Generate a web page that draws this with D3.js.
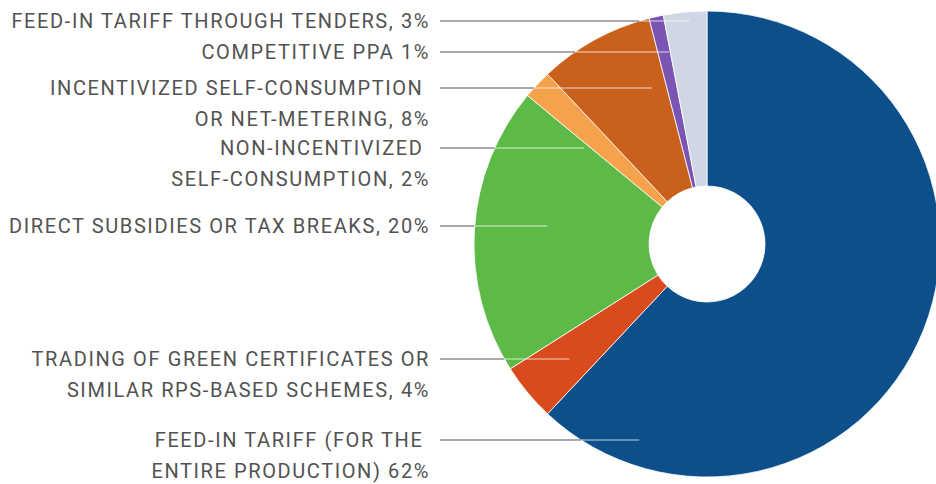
<!DOCTYPE html>
<html>
<head>
<meta charset="utf-8">
<script src="https://cdn.jsdelivr.net/npm/d3@7/dist/d3.min.js"></script>
<style>
  html, body { margin: 0; padding: 0; background: #fff; }
  svg { display: block; }
  .lbl { font-family: Roboto, "Liberation Sans", sans-serif; font-size: 20px; letter-spacing: 1.6px; fill: #525252; }
</style>
</head>
<body>
<svg id="chart" width="936" height="484"></svg>
<script>
// Support schemes, clockwise from 12 o'clock
const schemes = [
  "Feed-in tariff (entire production)",
  "Trading of green certificates",
  "Direct subsidies or tax breaks",
  "Non-incentivized self-consumption",
  "Incentivized self-consumption or net-metering",
  "Competitive PPA",
  "Feed-in tariff through tenders"
];
const shares = [62, 4, 20, 2, 8, 1, 3];
const sliceColors = ["#0c4f8b", "#d94a1c", "#5dba46", "#f4a24b", "#c9611d", "#7a55b3", "#cfd7e4"];
const labelText = [
  ["FEED-IN TARIFF (FOR THE\u00a0", "ENTIRE PRODUCTION) 62%"],
  ["TRADING OF GREEN CERTIFICATES OR", "SIMILAR RPS-BASED SCHEMES, 4%"],
  ["DIRECT SUBSIDIES OR TAX BREAKS, 20%"],
  ["NON-INCENTIVIZED\u00a0", "SELF-CONSUMPTION, 2%"],
  ["INCENTIVIZED SELF-CONSUMPTION\u00a0", "OR NET-METERING, 8%"],
  ["COMPETITIVE PPA 1%"],
  ["FEED-IN TARIFF THROUGH TENDERS, 3%"]
];

// Label layout: vertical centre of the first text line, and how far into the
// pie (as a fraction of the radius) the leader reaches.
const labelY = [440, 359, 226, 148, 88, 52, 21];
const leaderReach = [0.89, 0.77, 0.69, 0.67, 0.71, 0.84, 0.96];

const W = 936, H = 484;
const cx = 707, cy = 244, R = 233, r0 = 58;
const textRight = 430, leaderStart = 440, lineGap = 31;

const svg = d3.select("#chart");

const pie = d3.pie().sort(null).value(d => d);
const arcs = pie(shares);
const arc = d3.arc().innerRadius(r0).outerRadius(R);

const g = svg.append("g").attr("transform", `translate(${cx},${cy})`);
g.selectAll("path")
  .data(arcs)
  .join("path")
  .attr("d", arc)
  .attr("fill", (d, i) => sliceColors[i])
  .attr("stroke", "#ffffff")
  .attr("stroke-width", 0.8);

// Leader lines: grey outside the pie, translucent white over the slices
const leaders = svg.append("g");
shares.forEach((v, i) => {
  const y = labelY[i];
  const dy = y - cy;
  const reach = leaderReach[i] * R;
  const xEnd = cx - Math.sqrt(Math.max(reach * reach - dy * dy, 0));
  const xEdge = cx - Math.sqrt(Math.max(R * R - dy * dy, 0));
  leaders.append("line")
    .attr("x1", leaderStart).attr("x2", Math.min(xEdge, xEnd))
    .attr("y1", y).attr("y2", y)
    .attr("stroke", "#8d8d8d").attr("stroke-width", 1.5);
  if (xEnd > xEdge) {
    leaders.append("line")
      .attr("x1", xEdge).attr("x2", xEnd)
      .attr("y1", y).attr("y2", y)
      .attr("stroke", "#ffffff").attr("stroke-opacity", 0.5).attr("stroke-width", 1.5);
  }
});

// Category labels, right-aligned against the leaders
const labels = svg.append("g");
labelText.forEach((lines, i) => {
  lines.forEach((t, k) => {
    labels.append("text")
      .attr("class", "lbl")
      .attr("x", textRight)
      .attr("y", labelY[i] + k * lineGap)
      .attr("dy", "0.36em")
      .attr("text-anchor", "end")
      .text(t);
  });
});
</script>
</body>
</html>
